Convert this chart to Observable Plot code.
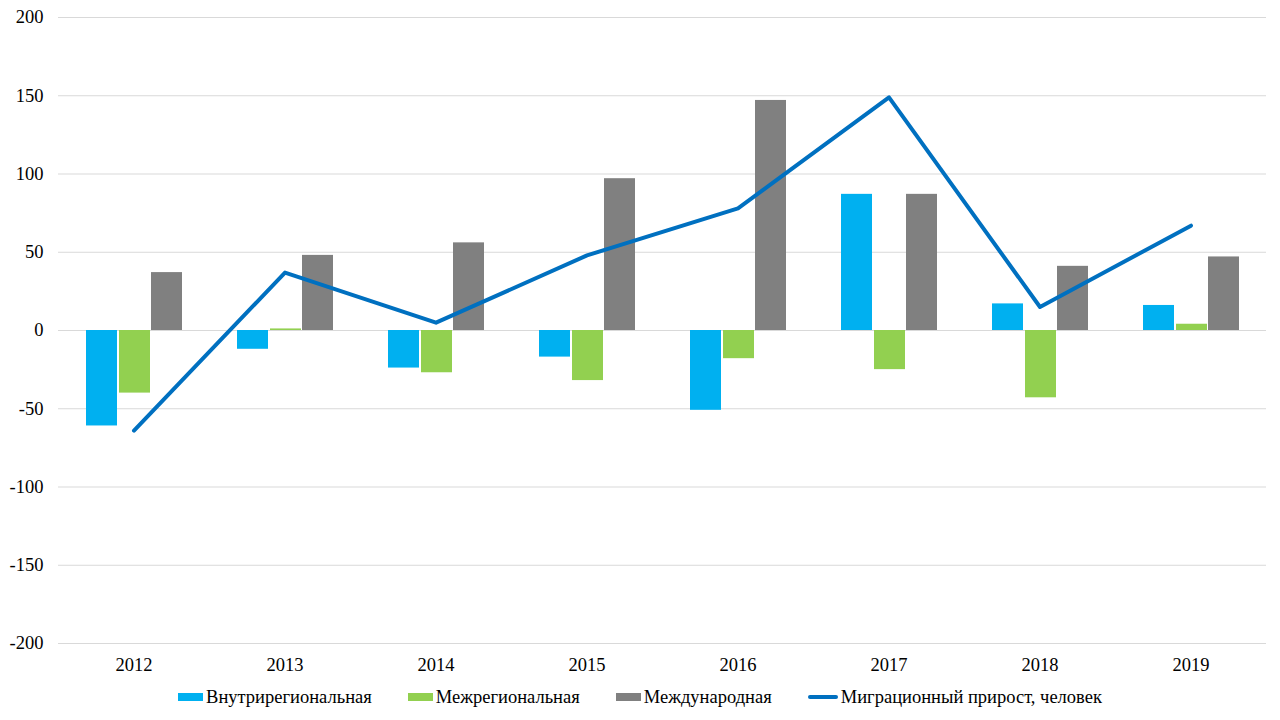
<!DOCTYPE html>
<html>
<head>
<meta charset="utf-8">
<script src="https://cdn.jsdelivr.net/npm/d3@7"></script>
<script src="https://cdn.jsdelivr.net/npm/@observablehq/plot@0.6"></script>
<style>
  body { margin: 0; background: #fff; font-family: "Liberation Serif", Tinos, "Times New Roman", Times, "DejaVu Serif", serif; }
  #wrap { position: relative; width: 1280px; height: 720px; }
  #legend { position: absolute; left: 0; top: 685px; width: 1280px; display: flex; justify-content: center; gap: 36px; font-size: 18.5px; color: #000; line-height: 24px; }
  .item { display: flex; align-items: center; }
  .sw { width: 25px; height: 8px; margin-right: 3px; }
  .ln { width: 30px; height: 4px; margin-right: 3px; border-radius: 2px; }
  svg text { font-family: "Liberation Serif", Tinos, "Times New Roman", Times, "DejaVu Serif", serif; }
</style>
</head>
<body>
<div id="wrap"><div id="chart"></div><div id="legend"></div></div>
<script>
const years = ["2012", "2013", "2014", "2015", "2016", "2017", "2018", "2019"];
const intra = [-61, -12, -24, -17, -51, 87, 17, 16];
const inter = [-40, 1, -27, -32, -18, -25, -43, 4];
const intl = [37, 48, 56, 97, 147, 87, 41, 47];
const total = [-64, 37, 5, 48, 78, 149, 15, 67];
const yTicks = [-200, -150, -100, -50, 0, 50, 100, 150, 200];
const seriesNames = ["Внутрирегиональная", "Межрегиональная", "Международная", "Миграционный прирост, человек"];
const colors = ["#00B0F0", "#92D050", "#808080", "#0070C0"];

const rows = years.map((y, i) => ({year: y, intra: intra[i], inter: inter[i], intl: intl[i], total: total[i]}));

const chart = Plot.plot({
  width: 1280,
  height: 680,
  marginTop: 17,
  marginBottom: 37,
  marginLeft: 58,
  marginRight: 14,
  style: {fontSize: "18.5px", color: "#000", background: "#fff"},
  x: {type: "band", domain: years, padding: 0, label: null},
  y: {domain: [-200, 200], label: null},
  marks: [
    Plot.ruleY(yTicks, {stroke: "#d9d9d9", strokeWidth: 1}),
    Plot.barY(rows, {x: "year", y: "intra", fill: colors[0], insetLeft: 28, insetRight: 92}),
    Plot.barY(rows, {x: "year", y: "inter", fill: colors[1], insetLeft: 61, insetRight: 59}),
    Plot.barY(rows, {x: "year", y: "intl", fill: colors[2], insetLeft: 93, insetRight: 27}),
    Plot.line(rows, {x: "year", y: "total", stroke: colors[3], strokeWidth: 4, strokeLinejoin: "round", strokeLinecap: "round"}),
    Plot.axisY({ticks: yTicks, tickSize: 0, tickPadding: 15, tickFormat: d => `${d}`, label: null, fontSize: 18.5}),
    Plot.axisX({tickSize: 0, tickPadding: 14, label: null, fontSize: 18.5})
  ]
});
document.getElementById("chart").appendChild(chart);

const legend = document.getElementById("legend");
seriesNames.forEach((name, i) => {
  const it = document.createElement("div");
  it.className = "item";
  const sw = document.createElement("span");
  sw.className = i === 3 ? "ln" : "sw";
  sw.style.background = colors[i];
  const t = document.createElement("span");
  t.textContent = name;
  it.appendChild(sw); it.appendChild(t);
  legend.appendChild(it);
});
</script>
</body>
</html>
